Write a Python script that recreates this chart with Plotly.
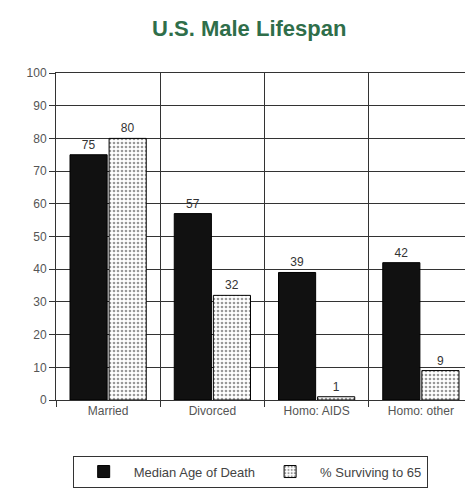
import plotly.graph_objects as go

categories = ["Married", "Divorced", "Homo: AIDS", "Homo: other"]
median_age = [75, 57, 39, 42]
pct_surviving = [80, 32, 1, 9]
y_ticks = [0, 10, 20, 30, 40, 50, 60, 70, 80, 90, 100]

fig = go.Figure()
fig.add_trace(go.Bar(
    name="Median Age of Death", x=categories, y=median_age,
    marker=dict(color="#111111", line=dict(color="#000000", width=1)),
    text=median_age, textposition="outside",
    textfont=dict(color="#333333", size=12),
))
fig.add_trace(go.Bar(
    name="% Surviving to 65", x=categories, y=pct_surviving,
    marker=dict(color="white", line=dict(color="#000000", width=1),
                pattern=dict(shape=".", fgcolor="#333333", bgcolor="white", size=4, solidity=0.35)),
    text=pct_surviving, textposition="outside",
    textfont=dict(color="#333333", size=12),
))

fig.update_layout(
    width=473, height=500,
    paper_bgcolor="white", plot_bgcolor="white",
    font=dict(family="Liberation Sans, Arial, sans-serif", color="#444444", size=12),
    title=dict(text="<b>U.S. Male Lifespan</b>", x=0.51, xanchor="center", y=0.96, yanchor="middle",
               font=dict(size=22, color="#2f6e4a")),
    margin=dict(l=48, r=8, t=65, b=108),
    barmode="group", bargap=0.25, bargroupgap=0.05,
    showlegend=True,
    legend=dict(orientation="h", x=0.04, xanchor="left", y=-0.17, yanchor="top",
                bordercolor="#333333", borderwidth=1, font=dict(size=13, color="#444444"),
                itemwidth=50),
)
fig.update_yaxes(range=[0, 100], tickvals=y_ticks, showline=True, linecolor="#333333",
                 ticks="outside", ticklen=6, tickcolor="#333333",
                 showgrid=True, gridcolor="#333333", gridwidth=1, zeroline=False,
                 tickfont=dict(size=12, color="#555555"), mirror=True)
fig.update_xaxes(showline=True, linecolor="#333333", mirror=True,
                 tickson="boundaries", ticks="outside", ticklen=6, tickcolor="#333333",
                 showgrid=True, gridcolor="#333333", gridwidth=1,
                 tickfont=dict(size=12, color="#555555"))

fig.write_html("out.html")
